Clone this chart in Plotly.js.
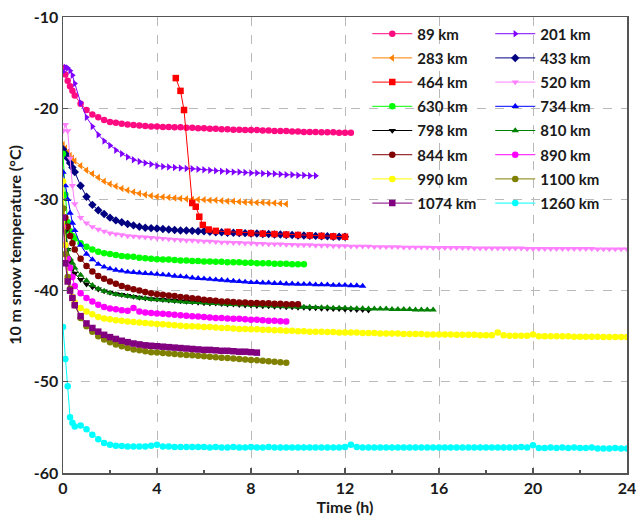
<!DOCTYPE html>
<html>
<head>
<meta charset="utf-8">
<script src="https://cdn.plot.ly/plotly-3.0.1.min.js"></script>
<style>html,body{margin:0;padding:0;background:#fff;}#chart{width:636px;height:519px;}</style>
</head>
<body>
<div id="chart"></div>
<script>
const T = [0,0.1,0.2,0.3,0.4,0.5,0.75,1,1.25,1.5,1.75,2,2.25,2.5,2.75,3,3.25,3.5,3.75,4,4.25,4.5,4.75,5,5.25,5.5,5.75,6,6.25,6.5,6.75,7,7.25,7.5,7.75,8,8.25,8.5,8.75,9,9.25,9.5,9.75,10,10.25,10.5,10.75,11,11.25,11.5,11.75,12,12.25,12.5,12.75,13,13.25,13.5,13.75,14,14.25,14.5,14.75,15,15.25,15.5,15.75,16,16.25,16.5,16.75,17,17.25,17.5,17.75,18,18.25,18.5,18.75,19,19.25,19.5,19.75,20,20.25,20.5,20.75,21,21.25,21.5,21.75,22,22.25,22.5,22.75,23,23.25,23.5,23.75,24];

const y89 = [-15.6,-16.3,-17.0,-17.6,-18.1,-18.6,-19.5,-20.2,-20.7,-21.0,-21.3,-21.5,-21.6,-21.7,-21.8,-21.85,-21.9,-21.95,-22.0,-22.0,
-22.05,-22.05,-22.1,-22.1,-22.15,-22.15,-22.2,-22.2,-22.25,-22.25,-22.3,-22.3,-22.35,-22.35,-22.4,-22.4,-22.4,-22.45,-22.45,-22.5,-22.5,-22.5,-22.55,-22.55,-22.6,-22.6,-22.6,-22.65,-22.65,-22.65,-22.7,-22.7,-22.7];
const y201 = [-16.0,-15.5,-15.6,-15.9,-16.4,-17.3,-19.4,-21.0,-22.0,-22.9,-23.6,-24.1,-24.6,-25.0,-25.35,-25.65,-25.85,-26.0,-26.15,-26.3,
-26.4,-26.45,-26.5,-26.55,-26.6,-26.65,-26.7,-26.75,-26.8,-26.85,-26.9,-26.95,-27.0,-27.0,-27.05,-27.1,-27.1,-27.15,-27.2,-27.2,-27.25,-27.3,-27.3,-27.35,-27.35,-27.4,-27.4];
const y283 = [-24.0,-24.4,-24.8,-25.2,-25.5,-25.8,-26.3,-26.8,-27.2,-27.6,-28.0,-28.3,-28.55,-28.8,-29.0,-29.2,-29.35,-29.5,-29.6,-29.7,
-29.75,-29.8,-29.85,-29.9,-29.95,-30.0,-30.0,-30.05,-30.1,-30.1,-30.15,-30.2,-30.2,-30.25,-30.3,-30.3,-30.35,-30.35,-30.4,-30.4,-30.45,-30.5];
const y433 = [-24.5,-25.0,-25.5,-26.0,-26.5,-27.0,-28.5,-29.7,-30.6,-31.2,-31.6,-32.0,-32.3,-32.5,-32.7,-32.85,-33.0,-33.1,-33.15,-33.2,
-33.25,-33.3,-33.35,-33.4,-33.4,-33.45,-33.5,-33.5,-33.55,-33.6,-33.6,-33.65,-33.65,-33.7,-33.7,-33.75,-33.75,-33.8,-33.8,-33.85,-33.85,-33.9,-33.9,-33.95,-33.95,-34.0,-34.0,-34.05,-34.05,-34.1,-34.1,-34.1];
const t464 = [4.8,5.0,5.15,5.5,5.65,5.8,5.95,6.2,6.5,7,7.5,8,8.5,9,9.5,10,10.5,11,11.5,12];
const y464 = [-16.7,-18.1,-20.2,-30.4,-30.8,-31.9,-32.8,-33.3,-33.45,-33.55,-33.6,-33.7,-33.75,-33.8,-33.85,-33.9,-33.95,-34.0,-34.05,-34.1];
const y520 = [-22.5,-21.8,-22.5,-25.5,-28.5,-30.5,-32.0,-32.6,-33.0,-33.3,-33.5,-33.7,-33.8,-33.9,-34.0,-34.05,-34.1,-34.15,-34.2,-34.25,
-34.3,-34.35,-34.4,-34.45,-34.5,-34.5,-34.55,-34.6,-34.6,-34.65,-34.7,-34.7,-34.75,-34.75,-34.8,-34.8,-34.85,-34.85,-34.9,-34.9,-34.9,-34.95,-34.95,-35.0,-35.0,-35.0,-35.05,-35.05,-35.05,-35.1,-35.1,-35.1,
-35.15,-35.15,-35.15,-35.15,-35.2,-35.2,-35.2,-35.2,-35.2,-35.25,-35.25,-35.25,-35.25,-35.25,-35.3,-35.3,-35.3,-35.3,-35.3,-35.3,-35.3,-35.35,-35.35,-35.35,-35.35,-35.35,-35.35,-35.35,-35.35,-35.35,-35.4,-35.4,-35.4,-35.4,-35.4,-35.4,-35.4,-35.4,-35.4,-35.4,-35.4,-35.4,-35.45,-35.45,-35.45,-35.45,-35.45,-35.45];
const y630 = [-25.0,-29.5,-32.5,-33.5,-34.0,-34.3,-34.8,-35.2,-35.5,-35.75,-35.9,-36.0,-36.1,-36.2,-36.25,-36.3,-36.4,-36.45,-36.5,-36.55,
-36.6,-36.6,-36.65,-36.7,-36.7,-36.75,-36.75,-36.8,-36.8,-36.85,-36.85,-36.9,-36.9,-36.9,-36.95,-36.95,-37.0,-37.0,-37.0,-37.05,-37.05,-37.05,-37.1,-37.1,-37.1];
const y734 = [-27.0,-28.5,-30.0,-31.5,-32.6,-33.4,-35.0,-36.0,-36.6,-37.1,-37.4,-37.6,-37.75,-37.85,-37.95,-38.0,-38.05,-38.1,-38.15,-38.2,
-38.25,-38.3,-38.4,-38.45,-38.5,-38.6,-38.65,-38.7,-38.75,-38.8,-38.85,-38.9,-38.95,-39.0,-39.05,-39.1,-39.1,-39.15,-39.15,-39.2,-39.2,-39.25,-39.25,-39.3,-39.3,-39.3,-39.35,-39.35,-39.35,-39.4,-39.4,-39.4,-39.45,-39.45,-39.5];
const y798 = [-31.0,-33.5,-35.5,-36.8,-37.6,-38.1,-38.8,-39.3,-39.6,-39.85,-40.05,-40.2,-40.35,-40.45,-40.55,-40.65,-40.75,-40.85,-40.9,-40.95,
-41.0,-41.05,-41.1,-41.15,-41.2,-41.25,-41.3,-41.35,-41.4,-41.4,-41.45,-41.5,-41.5,-41.55,-41.6,-41.6,-41.65,-41.7,-41.7,-41.75,-41.75,-41.8,-41.8,-41.85,-41.85,-41.9,-41.9,-41.95,-41.95,-42.0,-42.0,-42.05,-42.05,-42.1,-42.1,-42.15];
const y810 = [-30.0,-33.0,-35.5,-36.5,-37.0,-37.5,-38.3,-38.9,-39.4,-39.8,-40.05,-40.25,-40.4,-40.5,-40.6,-40.7,-40.8,-40.85,-40.95,-41.0,
-41.05,-41.1,-41.15,-41.2,-41.25,-41.3,-41.3,-41.35,-41.4,-41.4,-41.45,-41.5,-41.5,-41.55,-41.55,-41.6,-41.6,-41.65,-41.65,-41.7,-41.7,-41.75,-41.75,-41.8,-41.8,-41.8,-41.85,-41.85,-41.85,-41.9,-41.9,-41.9,-41.95,-41.95,-41.95,-42.0,-42.0,-42.0,-42.0,-42.05,-42.05,-42.05,-42.05,-42.1,-42.1,-42.1,-42.1];
const y844 = [-31.0,-32.0,-33.0,-34.0,-34.8,-35.5,-36.5,-37.3,-37.9,-38.4,-38.7,-39.0,-39.25,-39.5,-39.7,-39.85,-40.0,-40.15,-40.3,-40.4,
-40.45,-40.55,-40.6,-40.7,-40.75,-40.85,-40.9,-41.0,-41.05,-41.1,-41.2,-41.2,-41.25,-41.3,-41.3,-41.35,-41.35,-41.4,-41.4,-41.45,-41.45,-41.5,-41.5,-41.5];
const y890 = [-33.0,-35.0,-36.5,-37.5,-38.5,-39.5,-40.3,-40.8,-41.2,-41.55,-41.8,-41.95,-42.05,-42.15,-42.2,-41.9,-42.3,-42.4,-42.45,-42.5,
-42.55,-42.6,-42.65,-42.7,-42.75,-42.8,-42.85,-42.9,-42.95,-43.0,-43.0,-43.05,-43.1,-43.1,-43.15,-43.2,-43.2,-43.25,-43.3,-43.3,-43.35,-43.4];
const y990 = [-28.0,-35.0,-39.0,-40.0,-40.7,-41.3,-41.9,-42.3,-42.6,-42.9,-43.05,-43.15,-43.25,-43.3,-43.4,-43.45,-43.5,-43.55,-43.6,-43.65,
-43.7,-43.75,-43.8,-43.85,-43.9,-43.9,-43.95,-44.0,-44.0,-44.05,-44.1,-44.1,-44.15,-44.2,-44.2,-44.25,-44.25,-44.3,-44.3,-44.35,-44.35,-44.4,-44.4,-44.45,-44.45,-44.5,-44.5,-44.5,-44.55,-44.55,-44.6,-44.6,
-44.6,-44.6,-44.65,-44.65,-44.65,-44.7,-44.7,-44.7,-44.7,-44.75,-44.75,-44.75,-44.75,-44.8,-44.8,-44.8,-44.8,-44.8,-44.85,-44.85,-44.85,-44.85,-44.9,-44.9,-44.9,-44.6,-44.9,-44.95,-44.95,-44.95,-44.95,-44.8,-45.0,-45.0,-45.0,-45.0,-45.0,-45.0,-45.05,-45.05,-45.05,-45.05,-45.05,-45.1,-45.1,-45.1,-45.1,-45.1];
const y1100 = [-31.0,-36.0,-38.5,-39.8,-40.8,-41.6,-43.0,-43.9,-44.5,-45.0,-45.35,-45.65,-45.9,-46.1,-46.3,-46.45,-46.55,-46.65,-46.75,-46.8,
-46.85,-46.9,-46.95,-47.0,-47.05,-47.1,-47.15,-47.2,-47.25,-47.3,-47.35,-47.4,-47.45,-47.5,-47.55,-47.6,-47.65,-47.7,-47.75,-47.8,-47.85,-47.9];
const y1074 = [-32.0,-37.0,-39.0,-40.0,-40.8,-41.6,-42.8,-43.6,-44.1,-44.5,-44.85,-45.1,-45.3,-45.5,-45.65,-45.8,-45.9,-46.0,-46.05,-46.1,
-46.15,-46.2,-46.25,-46.3,-46.35,-46.4,-46.45,-46.5,-46.5,-46.55,-46.6,-46.6,-46.65,-46.7,-46.7,-46.75,-46.8];
const y1260 = [-44.0,-47.5,-50.5,-53.9,-54.5,-54.9,-54.8,-55.2,-55.8,-56.3,-56.7,-56.9,-57.0,-57.05,-57.1,-57.1,-57.1,-57.1,-57.0,-56.9,
-57.1,-57.1,-57.15,-57.15,-57.15,-57.15,-57.15,-57.15,-57.2,-57.15,-57.2,-57.2,-57.15,-57.2,-57.2,-57.15,-57.2,-57.2,-57.15,-57.2,-57.2,-57.2,-57.2,-57.2,-57.2,-57.2,-57.2,-57.2,-57.2,-57.2,-57.2,-57.15,
-56.9,-57.15,-57.2,-57.2,-57.2,-57.2,-57.2,-57.2,-57.2,-57.2,-57.2,-57.2,-57.2,-57.2,-57.2,-57.2,-57.2,-57.2,-57.2,-57.2,-57.2,-57.2,-57.2,-57.2,-57.2,-57.2,-57.2,-57.2,-57.2,-57.15,-57.2,-56.95,-57.25,-57.25,-57.2,-57.25,-57.2,-57.25,-57.2,-57.25,-57.25,-57.2,-57.3,-57.3,-57.3,-57.25,-57.3,-57.3];

const seriesNames = ['89 km','201 km','283 km','433 km','464 km','520 km','630 km','734 km','798 km','810 km','844 km','890 km','990 km','1100 km','1074 km','1260 km'];
const seriesY = [y89,y201,y283,y433,y464,y520,y630,y734,y798,y810,y844,y890,y990,y1100,y1074,y1260];
const colors = ['#FF0A80','#8000FF','#FF8000','#000080','#FF0000','#FF80FF','#00FF00','#0000FF','#000000','#008000','#800000','#FF00FF','#FFFF00','#808000','#800080','#00FFFF'];
const symbols = ['circle','triangle-right','triangle-left','diamond','square','triangle-down','circle','triangle-up','triangle-down','triangle-up','circle','circle','circle','circle','square','circle'];

const xTicks = [0,4,8,12,16,20,24];
const xTickText = ['0','4','8','12','16','20','24'];
const yTicks = [-60,-50,-40,-30,-20,-10];
const yTickText = ['-60','-50','-40','-30','-20','-10'];

const traces = seriesNames.map((name, i) => {
  const ys = seriesY[i];
  const xs = (name === '464 km') ? t464 : T.slice(0, ys.length);
  return {
    type: 'scatter', mode: 'lines+markers', name: name,
    legend: (i % 2 === 0) ? 'legend' : 'legend2',
    legendgroup: 'g' + i,
    x: xs, y: ys,
    line: {color: colors[i], width: 1},
    marker: {color: colors[i], symbol: symbols[i], size: 6.5, line: {width: 0}}
  };
});

const font = {family: 'Lato, "Open Sans", sans-serif', size: 16, color: '#1a1a1a', weight: 'bold'};
const legFont = {family: 'Lato, "Open Sans", sans-serif', size: 15, color: '#1a1a1a', weight: 'bold'};
const axisCommon = {
  showline: true, mirror: true, linecolor: '#555555', linewidth: 1.5,
  ticks: 'inside', ticklen: 5, tickcolor: '#555555', tickwidth: 1.2,
  showgrid: true, gridcolor: '#b9b9b9', griddash: 'dash', gridwidth: 1,
  zeroline: false, tickmode: 'array', tickfont: font, ticklabeloverflow: 'allow'
};
const legCommon = {
  orientation: 'v', xanchor: 'left', yanchor: 'top', y: 0.999,
  bgcolor: 'rgba(0,0,0,0)', borderwidth: 0, font: legFont, itemwidth: 40,
  traceorder: 'grouped', tracegroupgap: 1.7
};

const layout = {
  width: 636, height: 519,
  margin: {l: 63, r: 9, t: 17, b: 46},
  paper_bgcolor: '#ffffff', plot_bgcolor: '#ffffff',
  font: font,
  showlegend: true,
  legend: Object.assign({}, legCommon, {x: 0.5395}),
  legend2: Object.assign({}, legCommon, {x: 0.7575}),
  xaxis: Object.assign({}, axisCommon, {
    range: [0, 24.0001], tickvals: xTicks, ticktext: xTickText,
    minor: {tickvals: [2,6,10,14,18,22], ticks: 'inside', ticklen: 3, tickcolor: '#555555', showgrid: false},
    title: {text: 'Time (h)', font: font, standoff: 4}
  }),
  yaxis: Object.assign({}, axisCommon, {
    range: [-60, -10], tickvals: yTicks, ticktext: yTickText,
    title: {text: '10 m snow temperature (°C)', font: font, standoff: 8}
  })
};

Plotly.newPlot('chart', traces, layout, {displayModeBar: false, staticPlot: true});
</script>
</body>
</html>
